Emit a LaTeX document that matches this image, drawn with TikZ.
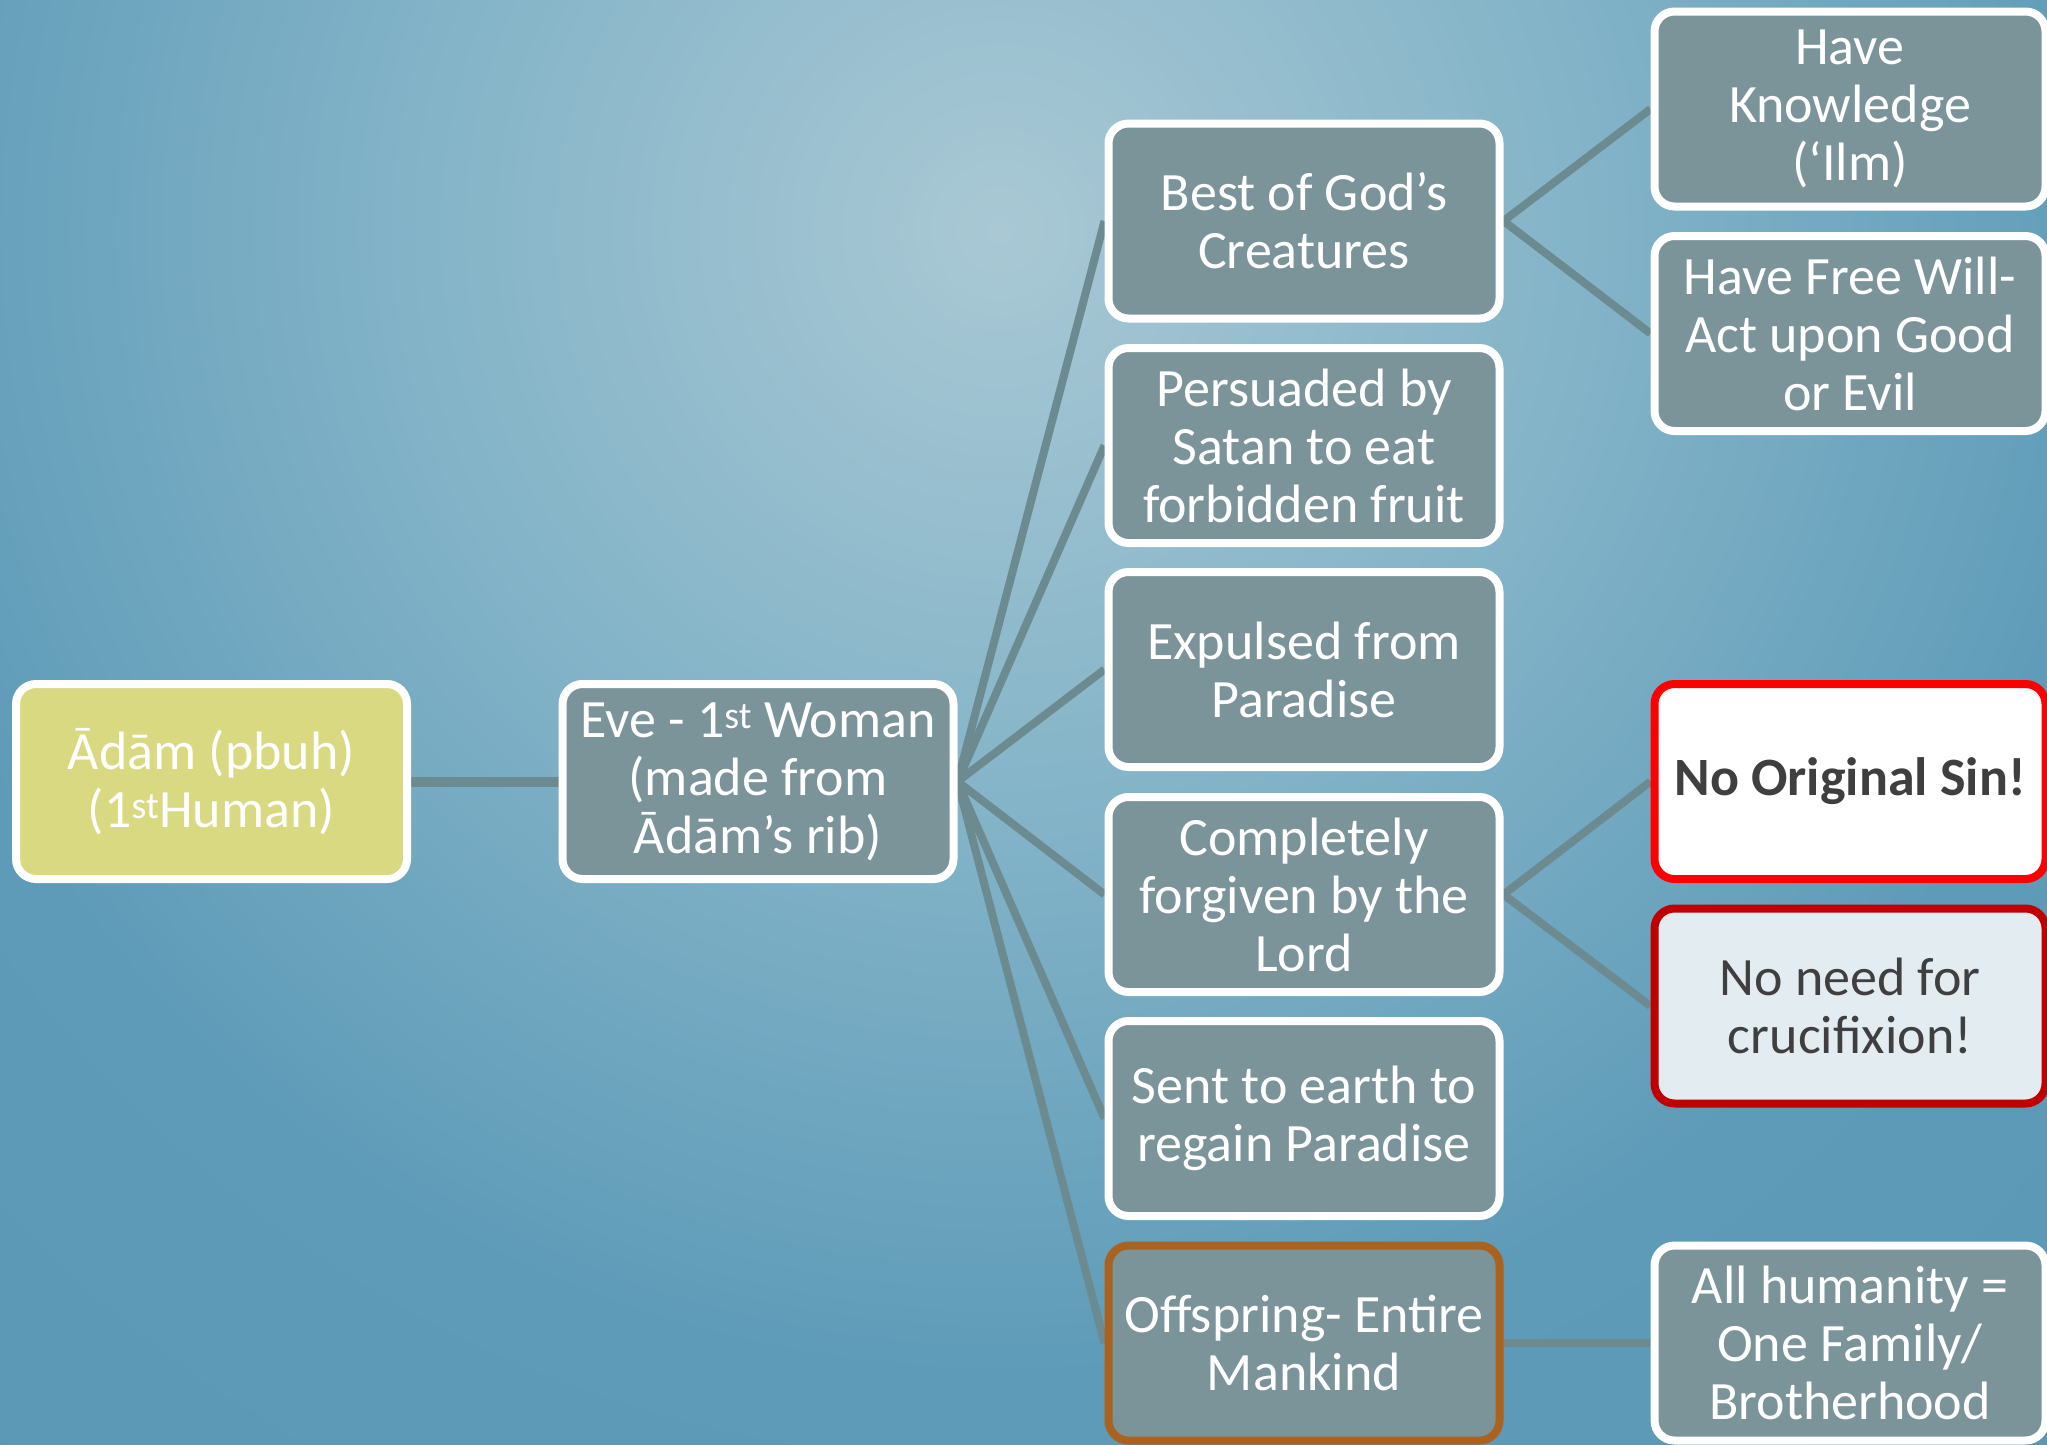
\documentclass[tikz,border=0pt]{standalone}
\usepackage{fontspec}
\setmainfont{Carlito}
\definecolor{bgA}{HTML}{A9C8D4}
\definecolor{bgB}{HTML}{84B4C8}
\definecolor{bgC}{HTML}{5E9BB8}
\definecolor{bgD}{HTML}{5A98B5}
\definecolor{boxfill}{HTML}{7B9499}
\definecolor{adamfill}{HTML}{D9D982}
\definecolor{conn}{HTML}{6B8B90}
\definecolor{sinred}{HTML}{FF0000}
\definecolor{darkred}{HTML}{C00000}
\definecolor{lightfill}{HTML}{E3ECF1}
\definecolor{offborder}{HTML}{AA6220}
\definecolor{darktext}{HTML}{3F3F3F}
\pgfdeclareradialshading{bgshade}{\pgfpoint{0bp}{0bp}}{color(0bp)=(bgA); color(8.7bp)=(bgB); color(17.4bp)=(bgC); color(25bp)=(bgD); color(50bp)=(bgD)}
\pgfdeclarelayer{bgl}
\pgfdeclarelayer{lines}
\pgfsetlayers{bgl,lines,main}
\begin{document}
\begin{tikzpicture}[x=1pt,y=-1pt,
  card/.style={draw=white, line width=8pt, fill=boxfill, rounded corners=20pt,
    minimum width=391pt, minimum height=195pt, inner sep=0pt, align=center,
    text=white, font=\fontsize{54}{58}\selectfont},
  link/.style={draw=conn, line width=8pt}]
\useasboundingbox (0,0) rectangle (2047,1444);
\clip (0,0) rectangle (2047,1444);
\begin{pgfonlayer}{bgl}
  \clip (0,0) rectangle (2047,1444);
  \fill[bgD] (0,0) rectangle (2047,1444);
  \shade[shading=bgshade] (1000,230) circle[radius=1650];
\end{pgfonlayer}

\node[card, fill=adamfill] (adam) at (211.5,781.5) {Ādām (pbuh)\\(1\textsuperscript{st}Human)};
\node[card] (eve) at (758,781.5) {Eve - 1\textsuperscript{st} Woman\\(made from\\Ādām’s rib)};
\node[card] (best) at (1304,221) {Best of God’s\\Creatures};
\node[card] (pers) at (1304,445.5) {Persuaded by\\Satan to eat\\forbidden fruit};
\node[card] (expu) at (1304,669.5) {Expulsed from\\Paradise};
\node[card] (forg) at (1304,894.5) {Completely\\forgiven by the\\Lord};
\node[card] (sent) at (1304,1118.5) {Sent to earth to\\regain Paradise};
\node[card, draw=offborder] (offs) at (1304,1343) {Offspring- Entire\\Mankind};
\node[card] (know) at (1850,109) {Have\\Knowledge\\(‘Ilm)};
\node[card] (will) at (1850,333.5) {Have Free Will-\\Act upon Good\\or Evil};
\node[card, draw=sinred, fill=white, text=darktext, font=\fontsize{54}{58}\selectfont\bfseries] (sin) at (1850,781.5) {No Original Sin!};
\node[card, draw=darkred, fill=lightfill, text=darktext] (cruc) at (1850,1006) {No need for\\crucifixion!};
\node[card] (hum) at (1850,1343) {All humanity =\\One Family/\\Brotherhood};

\begin{pgfonlayer}{lines}
  \draw[link, line width=10pt] (adam.east) -- (eve.west);
  \foreach \n in {best,pers,expu,forg,sent,offs} \draw[link] (eve.east) -- (\n.west);
  \draw[link] (best.east) -- (know.west);
  \draw[link] (best.east) -- (will.west);
  \draw[link] (forg.east) -- (sin.west);
  \draw[link] (forg.east) -- (cruc.west);
  \draw[link] (offs.east) -- (hum.west);
\end{pgfonlayer}
\end{tikzpicture}
\end{document}
